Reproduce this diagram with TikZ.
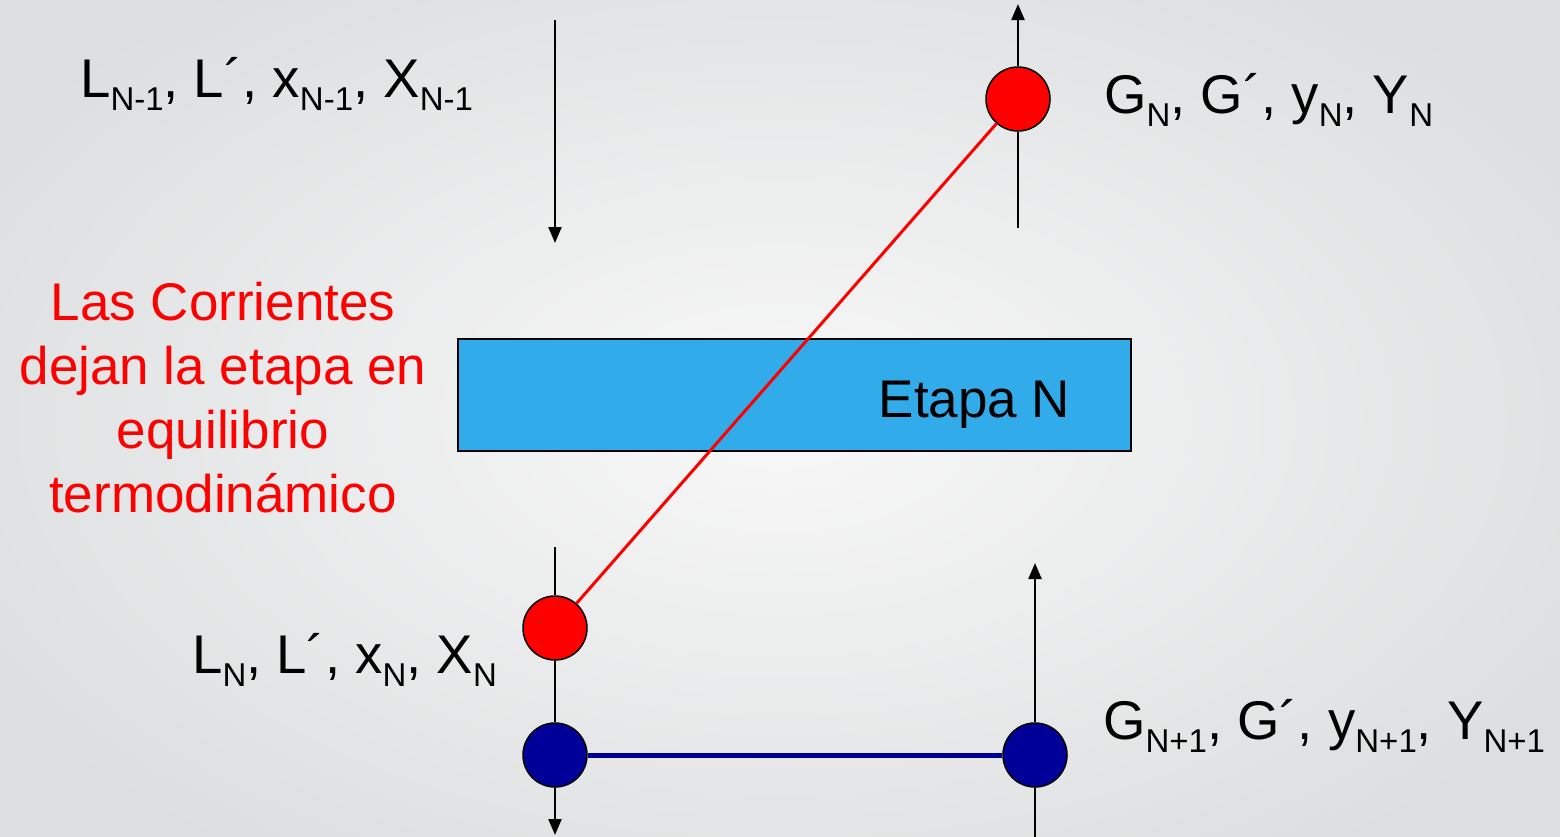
\documentclass[tikz,border=0pt]{standalone}
\usepackage{fontspec}
\setmainfont{Liberation Sans}
\usetikzlibrary{arrows.meta}
\definecolor{bgin}{HTML}{F8F8F8}
\definecolor{bgout}{HTML}{DCDEDF}
\definecolor{boxblue}{HTML}{31ABEA}
\definecolor{navy}{HTML}{000099}
\newcommand\lowsub[1]{\raisebox{-13pt}{\fontsize{33}{33}\selectfont #1}}
\tikzset{
  lbl/.style={anchor=base west, inner sep=0pt, font=\fontsize{54.5}{54.5}\selectfont},
  ball/.style={circle, draw=black, line width=1.5pt, minimum size=64pt, inner sep=0pt},
  flow/.style={draw=black, line width=2.2pt},
  arr/.style={flow, -{Triangle[length=16pt,width=13pt]}},
}
\begin{document}
\begin{tikzpicture}[x=1pt,y=-1pt]
\useasboundingbox (0,0) rectangle (1560,836);
\shade[inner color=bgin, outer color=bgout] (-150,-120) rectangle (1710,956);
% stage box
\node[draw=black, line width=1.5pt, fill=boxblue, minimum width=673pt, minimum height=112pt, inner sep=0pt] (box) at (794.5,395) {};
\node[anchor=base, inner sep=0pt, font=\fontsize{53}{53}\selectfont] (etapa) at (974.5,417) {Etapa N};
% balls
\node[ball, fill=red] (rTop) at (1018,99) {};
\node[ball, fill=red] (rBot) at (555,628) {};
\node[ball, fill=navy] (bL) at (555,755) {};
\node[ball, fill=navy] (bR) at (1035,755) {};
% coordinates
\coordinate (a1) at (555,20);
\coordinate (a1e) at (555,243);
\coordinate (a2e) at (1018,4);
\coordinate (a2s) at (1018,228);
\coordinate (a3s) at (555,547);
\coordinate (a3e) at (555,835);
\coordinate (a4s) at (1035,840);
\coordinate (a4e) at (1035,563);
% flows
\draw[arr] (a1) -- (a1e);
\draw[arr] (rTop) -- (a2e);
\draw[flow] (a2s) -- (rTop);
\draw[flow] (a3s) -- (rBot);
\draw[flow] (rBot) -- (bL);
\draw[arr] (bL) -- (a3e);
\draw[flow] (a4s) -- (bR);
\draw[arr] (bR) -- (a4e);
\draw[red, line width=3pt] (rTop) -- (rBot);
\draw[navy, line width=5pt] (bL) -- (bR);
% labels
\node[lbl] (lN1) at (80,97) {L\lowsub{N-1}, L´, x\lowsub{N-1}, X\lowsub{N-1}};
\node[lbl] (gN) at (1104,113) {G\lowsub{N}, G´, y\lowsub{N}, Y\lowsub{N}};
\node[lbl] (lN) at (192,673) {L\lowsub{N}, L´, x\lowsub{N}, X\lowsub{N}};
\node[lbl] (gN1) at (1103,739) {G\lowsub{N+1}, G´, y\lowsub{N+1}, Y\lowsub{N+1}};
\node[anchor=base, inner sep=0pt, text=red, align=center, font=\fontsize{53}{64}\selectfont] (note) at (223,512) {Las Corrientes\\dejan la etapa en\\equilibrio\\termodinámico};
\end{tikzpicture}
\end{document}
